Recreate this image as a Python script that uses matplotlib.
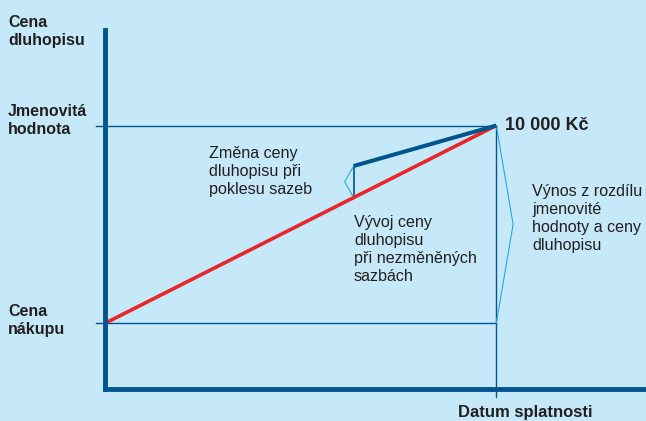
import matplotlib.pyplot as plt

# hodnoty (roky, Kč)
roky = [0, 10]
cena_beze_zmeny = [8000, 10000]
rok_poklesu = 6.35
cena_po_poklesu = [9590, 10000]
cena_pred_poklesem = 9270
nakup = 8000
nominal = 10000
splatnost = 10

W, H = 646, 421
BG = '#c6e9f9'
DARK = '#00558f'
RED = '#e8262c'
CYAN = '#28a9e1'
TXT = '#231f20'

plt.rcParams['font.family'] = ['Liberation Sans', 'DejaVu Sans']

fig = plt.figure(figsize=(W / 100, H / 100), dpi=100, facecolor=BG)
ax = fig.add_axes([104.5 / W, (H - 389) / H, (W - 104.5) / W, (389 - 30) / H])
ax.set_facecolor(BG)
ax.set_xlim(-0.026, 13.83)
ax.set_ylim(7332, 10967)

for s in ['top', 'right']:
    ax.spines[s].set_visible(False)
for s in ['left', 'bottom']:
    ax.spines[s].set_linewidth(3.5)
    ax.spines[s].set_color(DARK)
    ax.spines[s].set_zorder(5)
ax.set_xticks([])
ax.set_yticks([])

# pomocne vodici cary
ax.plot([-0.24, splatnost], [nominal, nominal], color=DARK, lw=1.0, clip_on=False, zorder=2)
ax.plot([-0.24, splatnost], [nakup, nakup], color=DARK, lw=1.0, clip_on=False, zorder=2)
ax.plot([splatnost, splatnost], [nominal, 7251], color=DARK, lw=1.0, clip_on=False, zorder=2)

# vyvoj ceny
ax.plot(roky, cena_beze_zmeny, color=RED, lw=2.6, solid_capstyle='butt', zorder=4)
ax.plot([rok_poklesu, splatnost], cena_po_poklesu, color=DARK, lw=2.9,
        solid_capstyle='butt', zorder=4)
ax.plot([rok_poklesu, rok_poklesu], [cena_pred_poklesem, cena_po_poklesu[0]],
        color=DARK, lw=1.2, zorder=3)

# zavorky
ax.plot([rok_poklesu, rok_poklesu - 0.23, rok_poklesu],
        [cena_po_poklesu[0], (cena_po_poklesu[0] + cena_pred_poklesem) / 2, cena_pred_poklesem],
        color=CYAN, lw=0.8, zorder=3)
ax.plot([splatnost, splatnost + 0.43, splatnost],
        [nominal, (nominal + nakup) / 2, nakup], color=CYAN, lw=0.8, zorder=3)


def px(x, y):
    return x / W, 1 - y / H


bold = dict(fontsize=11.5, fontweight='bold', color=TXT, linespacing=1.28)
reg = dict(fontsize=11.6, color=TXT, linespacing=1.24)

fig.text(*px(8, 15), 'Cena\ndluhopisu', va='top', ha='left', **bold)
fig.text(*px(8, 104), 'Jmenovitá\nhodnota', va='top', ha='left', **bold)
fig.text(*px(8, 304), 'Cena\nnákupu', va='top', ha='left', **bold)
fig.text(*px(525, 417), 'Datum splatnosti', va='baseline', ha='center',
         fontsize=12, fontweight='bold', color=TXT)
fig.text(*px(505, 126), '10 000 Kč', va='center', ha='left', fontsize=13,
         fontweight='bold', color=TXT)

fig.text(*px(209, 146), 'Změna ceny\ndluhopisu při\npoklesu sazeb', va='top', ha='left', **reg)
fig.text(*px(354, 215), 'Vývoj ceny\ndluhopisu\npři nezměněných\nsazbách', va='top', ha='left', **reg)
fig.text(*px(532, 184), 'Výnos z rozdílu\njmenovité\nhodnoty a ceny\ndluhopisu', va='top', ha='left', **reg)

fig.savefig('out.png', dpi=100, facecolor=BG)
